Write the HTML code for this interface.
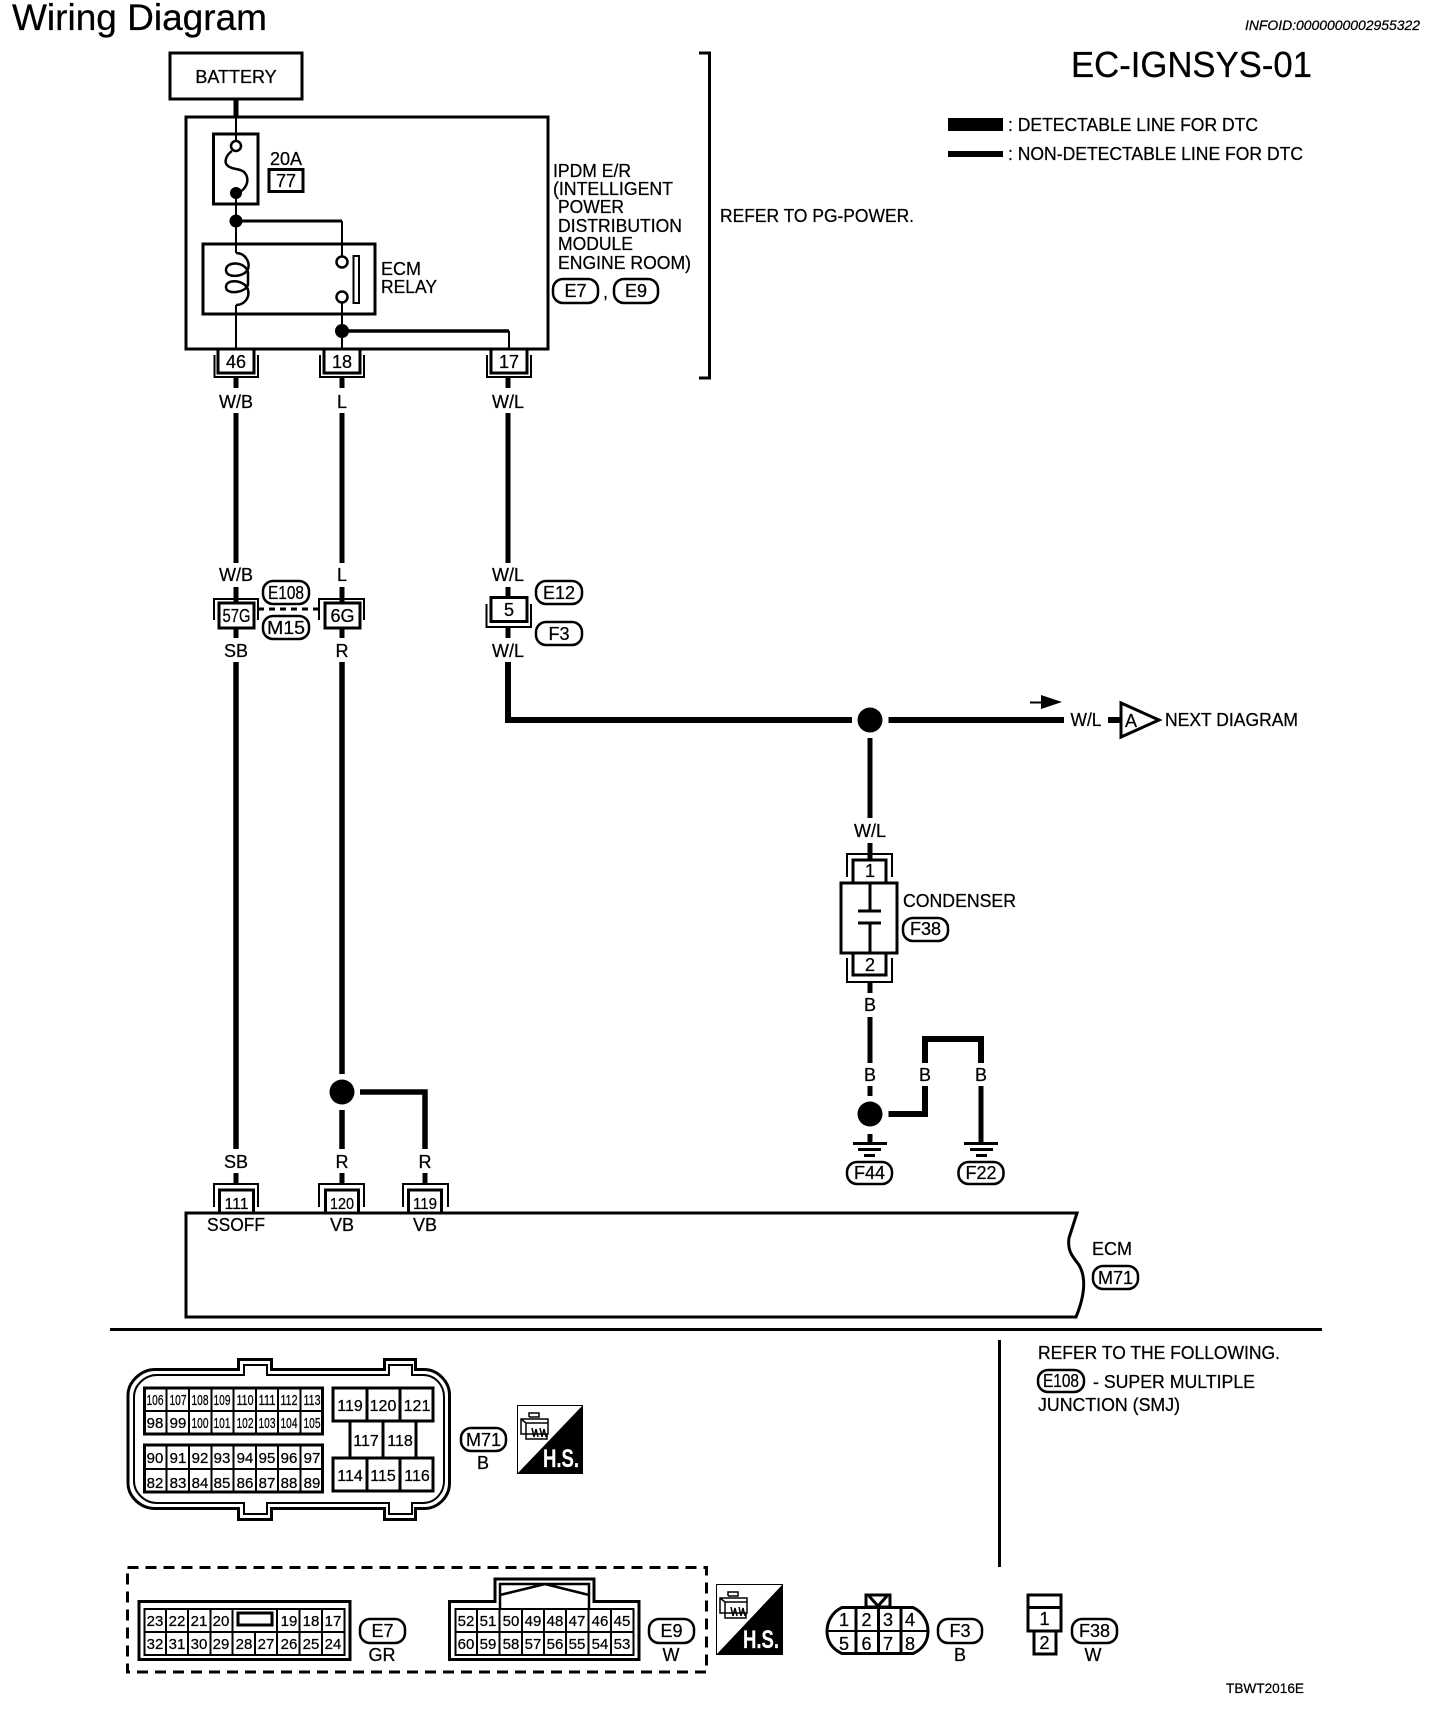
<!DOCTYPE html>
<html><head><meta charset="utf-8"><title>Wiring Diagram</title>
<style>
html,body{margin:0;padding:0;background:#fff}
svg{display:block}
text{font-family:"Liberation Sans",sans-serif;font-size:18px;fill:#000;stroke:#000;stroke-width:.25}
.m{text-anchor:middle}
.p{font-size:15px}
.q{font-size:16px}
.w{stroke:#000;stroke-width:5;fill:none}
.t{stroke:#000;stroke-width:2;fill:none}
.c{stroke:#000;stroke-width:2.500;fill:none}
.b{stroke:#000;stroke-width:3;fill:none}
.g{stroke:#000;stroke-width:3;fill:#fff}
.pill{stroke:#000;stroke-width:2.5;fill:#fff}
.hs{font-size:25px;font-weight:bold;fill:#fff;stroke:#fff;stroke-width:.2}
</style></head><body>
<svg width="1456" height="1710" viewBox="0 0 1456 1710" xmlns="http://www.w3.org/2000/svg">
<rect width="1456" height="1710" fill="#fff"/>
<text x="12" y="30" style="font-size:37px" textLength="255" lengthAdjust="spacingAndGlyphs">Wiring Diagram</text>
<text x="1245" y="30" style="font-size:14px;font-style:italic" textLength="175" lengthAdjust="spacingAndGlyphs">INFOID:0000000002955322</text>
<text x="1071" y="77" style="font-size:36px" textLength="241" lengthAdjust="spacingAndGlyphs">EC-IGNSYS-01</text>
<rect x="948" y="118" width="55" height="13"/>
<rect x="948" y="151" width="55" height="6"/>
<text x="1008" y="131" textLength="250" lengthAdjust="spacingAndGlyphs">: DETECTABLE LINE FOR DTC</text>
<text x="1008" y="160" textLength="295" lengthAdjust="spacingAndGlyphs">: NON-DETECTABLE LINE FOR DTC</text>

<!-- battery + IPDM -->
<rect x="170" y="53" width="132" height="46" class="b"/>
<text x="236" y="83" class="m">BATTERY</text>
<path d="M236 99V117" class="w"/>
<rect x="186" y="117" width="362" height="232" class="b"/>
<rect x="213.500" y="134" width="44.500" height="70" class="b"/>
<path d="M236 117V140M236 198V253M236 305V349M342 221V256M342 303V349M509 331V349" class="t"/>
<circle cx="236" cy="146" r="5" class="c" fill="#fff"/>
<path d="M232 151C226 155 224 162 227 165C231 170 240 168 244 172C249 177 249 186 240 192" class="c"/>
<circle cx="236" cy="193" r="6"/>
<circle cx="236" cy="221" r="6.500"/>
<path d="M236 221H342" class="b"/>
<rect x="203" y="244" width="172" height="70" class="b"/>
<path d="M236 253C246 253 250 263 248 269C245 277 226 279 226 270C226 261 245 261 248 272V284C248 292 226 296 226 287C226 278 246 280 248 290C250 298 244 305 236 305" class="c"/>
<circle cx="342" cy="262" r="5.500" class="c" fill="#fff"/>
<circle cx="342" cy="297" r="5.500" class="c" fill="#fff"/>
<rect x="353.500" y="256" width="5.500" height="47" class="t"/>
<circle cx="342" cy="331" r="7"/>
<path d="M342 331H509" class="b" style="stroke-width:3.500"/>
<text x="286" y="165" class="m">20A</text>
<rect x="269" y="169.500" width="34" height="22" class="b"/>
<text x="286" y="187" class="m">77</text>
<text x="381" y="275">ECM</text>
<text x="381" y="293" textLength="56" lengthAdjust="spacingAndGlyphs">RELAY</text>
<text x="553" y="177" textLength="78" lengthAdjust="spacingAndGlyphs">IPDM E/R</text>
<text x="553" y="195" textLength="120" lengthAdjust="spacingAndGlyphs">(INTELLIGENT</text>
<text x="558" y="213" textLength="66" lengthAdjust="spacingAndGlyphs">POWER</text>
<text x="558" y="232" textLength="124" lengthAdjust="spacingAndGlyphs">DISTRIBUTION</text>
<text x="558" y="250" textLength="75" lengthAdjust="spacingAndGlyphs">MODULE</text>
<text x="558" y="269" textLength="133" lengthAdjust="spacingAndGlyphs">ENGINE ROOM)</text>
<rect x="553" y="279" width="45" height="24" rx="10" class="pill"/><text x="575.500" y="297" class="m">E7</text>
<text x="603" y="298">,</text>
<rect x="614" y="279" width="44" height="24" rx="10" class="pill"/><text x="636" y="297" class="m">E9</text>
<path d="M699 53H709.500V378H699" class="b"/>
<text x="720" y="222" textLength="194" lengthAdjust="spacingAndGlyphs">REFER TO PG-POWER.</text>

<!-- IPDM connectors -->
<rect x="218" y="349" width="36" height="24" class="b"/><path d="M214.500 355V377H258V355" class="t"/>
<text x="236" y="368" class="m">46</text>
<rect x="324" y="349" width="36" height="24" class="b"/><path d="M320 355V377H364V355" class="t"/>
<text x="342" y="368" class="m">18</text>
<rect x="491" y="349" width="36" height="24" class="b"/><path d="M487 355V377H531V355" class="t"/>
<text x="509" y="368" class="m">17</text>

<path d="M236 377V388M236 413V563M342 377V388M342 413V563M508 377V388M508 413V563" class="w"/>
<text x="236" y="408" class="m">W/B</text><text x="342" y="408" class="m">L</text><text x="508" y="408" class="m">W/L</text>
<text x="236" y="581" class="m">W/B</text><text x="342" y="581" class="m">L</text><text x="508" y="581" class="m">W/L</text>
<path d="M236 587V603M342 587V603M508 587V597M236 628V638M342 628V638M508 628V638" class="w"/>

<!-- mid connectors -->
<path d="M214 620V599H258V620" class="t"/>
<rect x="219" y="603" width="35" height="25" class="g"/>
<text x="236.500" y="622" class="m" textLength="28" lengthAdjust="spacingAndGlyphs">57G</text>
<path d="M319 620V599H364V620" class="t"/>
<rect x="325" y="603" width="35" height="25" class="g"/>
<text x="342.500" y="622" class="m">6G</text>
<path d="M258 609H319" class="b" stroke-dasharray="6 5"/>
<rect x="263" y="581" width="46" height="23" rx="10" class="pill"/><text x="286" y="599" class="m" textLength="36" lengthAdjust="spacingAndGlyphs">E108</text>
<rect x="263" y="616" width="46" height="23" rx="10" class="pill"/><text x="286" y="634" class="m" textLength="38" lengthAdjust="spacingAndGlyphs">M15</text>
<rect x="491" y="597.500" width="36" height="24" class="b"/>
<text x="509" y="616" class="m">5</text>
<path d="M486.500 604V627H531V604" class="t"/>
<rect x="536" y="581" width="46" height="23" rx="10" class="pill"/><text x="559" y="599" class="m">E12</text>
<rect x="536" y="622" width="46" height="23" rx="10" class="pill"/><text x="559" y="640" class="m">F3</text>
<text x="236" y="657" class="m">SB</text><text x="342" y="657" class="m">R</text><text x="508" y="657" class="m">W/L</text>
<path d="M236 662V1149M342 662V1074M342 1110V1149M425 1149V1092H360" class="w" style="stroke-width:5.500"/>
<circle cx="342" cy="1092" r="12.500"/>
<path d="M508 662V720H852M888.500 720H1064" class="w" style="stroke-width:6"/>
<circle cx="870" cy="720" r="12.500"/>
<path d="M1030 702.500H1045" class="t"/><path d="M1041 695L1062 702L1041 709Z"/>
<text x="1086" y="726" class="m" textLength="31" lengthAdjust="spacingAndGlyphs">W/L</text>
<path d="M1108 720H1121" class="w" style="stroke-width:6"/>
<path d="M1121 703V737L1159 720Z" class="b" fill="#fff"/>
<text x="1131" y="727" class="m">A</text>
<text x="1165" y="726" textLength="133" lengthAdjust="spacingAndGlyphs">NEXT DIAGRAM</text>

<!-- condenser -->
<path d="M870 738V818M870 843V859" class="w"/>
<text x="870" y="837" class="m">W/L</text>
<path d="M847 877V854H892V877" class="t"/>
<rect x="853" y="860" width="33" height="24" class="b"/>
<text x="870" y="877" class="m">1</text>
<rect x="841" y="883" width="56" height="70" class="g"/>
<path d="M870 883V911M870 923V953" class="b"/>
<path d="M858 911H881M858 923H881" class="b"/>
<rect x="853" y="953" width="33" height="22" class="b"/>
<text x="870" y="971" class="m">2</text>
<path d="M847 958V982H892V958" class="t"/>
<text x="903" y="907" textLength="113" lengthAdjust="spacingAndGlyphs">CONDENSER</text>
<rect x="903" y="918" width="45" height="23" rx="10" class="pill"/><text x="925.500" y="935" class="m">F38</text>
<path d="M870 982V993M870 1017V1063M870 1086V1096M870 1134V1143" class="w"/>
<text x="870" y="1011" class="m">B</text><text x="870" y="1081" class="m">B</text>
<circle cx="870" cy="1114" r="12.500"/>
<path d="M888.500 1114H925V1086M925 1063V1039H981V1063" class="w" style="stroke-width:6"/>
<path d="M981 1086V1143" class="w"/>
<text x="925" y="1081" class="m">B</text><text x="981" y="1081" class="m">B</text>
<path d="M853 1143.500H887M858 1149.500H881M864 1155.500H875M964 1143.500H998M970 1149.500H993M976 1155.500H987" class="b"/>
<rect x="847" y="1162" width="45" height="22" rx="10" class="pill"/><text x="869.500" y="1179" class="m">F44</text>
<rect x="958.500" y="1162" width="45" height="22" rx="10" class="pill"/><text x="981" y="1179" class="m">F22</text>

<!-- ECM -->
<text x="236" y="1168" class="m">SB</text><text x="342" y="1168" class="m">R</text><text x="425" y="1168" class="m">R</text>
<path d="M236 1173V1184M342 1173V1184M425 1173V1184" class="w"/>
<path d="M214 1207V1184H258V1207M319 1207V1184H364V1207M403 1207V1184H448V1207" class="t"/>
<path d="M1077 1213L1069 1238C1067 1252 1074 1258 1079 1265C1086 1277 1085 1295 1076 1317H186V1213H1077Z" class="b" fill="#fff"/>
<rect x="219.500" y="1190" width="34" height="23" class="b"/><text x="236.500" y="1209" class="m q" textLength="24" lengthAdjust="spacingAndGlyphs">111</text>
<rect x="325.500" y="1190" width="33" height="23" class="b"/><text x="342" y="1209" class="m q" textLength="24" lengthAdjust="spacingAndGlyphs">120</text>
<rect x="408.500" y="1190" width="33" height="23" class="b"/><text x="425" y="1209" class="m q" textLength="24" lengthAdjust="spacingAndGlyphs">119</text>
<text x="236" y="1231" class="m" textLength="58" lengthAdjust="spacingAndGlyphs">SSOFF</text><text x="342" y="1231" class="m">VB</text><text x="425" y="1231" class="m">VB</text>
<text x="1112" y="1255" class="m">ECM</text>
<rect x="1093" y="1266" width="45" height="23" rx="10" class="pill"/><text x="1115.500" y="1284" class="m">M71</text>

<!-- dividers -->
<rect x="110" y="1328" width="1212" height="3"/>
<rect x="998" y="1340" width="3" height="227"/>
<text x="1038" y="1359" textLength="242" lengthAdjust="spacingAndGlyphs">REFER TO THE FOLLOWING.</text>
<rect x="1038" y="1370" width="46" height="22" rx="10" class="pill"/><text x="1061" y="1387" class="m" textLength="36" lengthAdjust="spacingAndGlyphs">E108</text>
<text x="1093" y="1388" textLength="162" lengthAdjust="spacingAndGlyphs">- SUPER MULTIPLE</text>
<text x="1038" y="1411" textLength="142" lengthAdjust="spacingAndGlyphs">JUNCTION (SMJ)</text>

<!-- M71 connector -->
<path d="M238.500 1369.500V1359.500H271.500V1369.500H384.500V1359.500H415.500V1369.500H424C438 1369.500 449.500 1382 449.500 1395V1483C449.500 1497 438 1508.500 424 1508.500H415.500V1519.500H384.500V1508.500H271.500V1519.500H238.500V1508.500H155C141 1508.500 128 1497 128 1483V1395C128 1382 141 1369.500 155 1369.500Z" class="b" fill="#fff"/>
<path d="M244 1375V1365H267V1375H389V1365H412V1375H423C435 1375 444 1385 444 1397V1481C444 1493 435 1503 423 1503H412V1514H389V1503H267V1514H244V1503H157C145 1503 134 1493 134 1481V1397C134 1385 145 1375 157 1375Z" class="t" fill="#fff"/>
<rect x="144.500" y="1388" width="178" height="46" class="b" fill="#fff" style="stroke-width:3"/>
<path d="M144 1411H322M166.500 1388V1434M189 1388V1434M211.500 1388V1434M233.500 1388V1434M256 1388V1434M278 1388V1434M300.500 1388V1434" class="t"/>
<rect x="144.500" y="1445" width="178" height="47" class="b" fill="#fff"/>
<path d="M144 1469H322M166.500 1445V1492M189 1445V1492M211.500 1445V1492M233.500 1445V1492M256 1445V1492M278 1445V1492M300.500 1445V1492" class="t"/>
<text x="155" y="1405" class="m p" textLength="17" lengthAdjust="spacingAndGlyphs">106</text><text x="178" y="1405" class="m p" textLength="17" lengthAdjust="spacingAndGlyphs">107</text><text x="200" y="1405" class="m p" textLength="17" lengthAdjust="spacingAndGlyphs">108</text><text x="222" y="1405" class="m p" textLength="17" lengthAdjust="spacingAndGlyphs">109</text><text x="245" y="1405" class="m p" textLength="17" lengthAdjust="spacingAndGlyphs">110</text><text x="267" y="1405" class="m p" textLength="17" lengthAdjust="spacingAndGlyphs">111</text><text x="289" y="1405" class="m p" textLength="17" lengthAdjust="spacingAndGlyphs">112</text><text x="312" y="1405" class="m p" textLength="17" lengthAdjust="spacingAndGlyphs">113</text>
<text x="155" y="1428" class="m p">98</text><text x="178" y="1428" class="m p">99</text><text x="200" y="1428" class="m p" textLength="17" lengthAdjust="spacingAndGlyphs">100</text><text x="222" y="1428" class="m p" textLength="17" lengthAdjust="spacingAndGlyphs">101</text><text x="245" y="1428" class="m p" textLength="17" lengthAdjust="spacingAndGlyphs">102</text><text x="267" y="1428" class="m p" textLength="17" lengthAdjust="spacingAndGlyphs">103</text><text x="289" y="1428" class="m p" textLength="17" lengthAdjust="spacingAndGlyphs">104</text><text x="312" y="1428" class="m p" textLength="17" lengthAdjust="spacingAndGlyphs">105</text>
<text x="155" y="1463" class="m p">90</text><text x="178" y="1463" class="m p">91</text><text x="200" y="1463" class="m p">92</text><text x="222" y="1463" class="m p">93</text><text x="245" y="1463" class="m p">94</text><text x="267" y="1463" class="m p">95</text><text x="289" y="1463" class="m p">96</text><text x="312" y="1463" class="m p">97</text>
<text x="155" y="1488" class="m p">82</text><text x="178" y="1488" class="m p">83</text><text x="200" y="1488" class="m p">84</text><text x="222" y="1488" class="m p">85</text><text x="245" y="1488" class="m p">86</text><text x="267" y="1488" class="m p">87</text><text x="289" y="1488" class="m p">88</text><text x="312" y="1488" class="m p">89</text>
<path d="M333 1388H433V1421H333ZM367 1388V1421M400 1388V1421M350 1421V1457M416 1421V1457M383 1421V1457M333 1458H433V1491H333ZM367 1458V1491M400 1458V1491" class="b"/>
<text x="350" y="1411" class="m q">119</text><text x="383" y="1411" class="m q">120</text><text x="417" y="1411" class="m q">121</text>
<text x="366" y="1446" class="m q">117</text><text x="400" y="1446" class="m q">118</text>
<text x="350" y="1481" class="m q">114</text><text x="383" y="1481" class="m q">115</text><text x="417" y="1481" class="m q">116</text>
<rect x="461" y="1428" width="45" height="23" rx="10" class="pill"/><text x="483.500" y="1446" class="m">M71</text>
<text x="483" y="1469" class="m">B</text>

<!-- HS icon 1 -->
<rect x="517.500" y="1405.500" width="65" height="68" fill="#fff" stroke="#000"/>
<path d="M583 1405V1474H517Z"/>
<path d="M521 1419H548V1434H521ZM521 1419L526 1423V1439H547V1434M526 1423H548M529 1417V1413H539V1417H529M532 1428L534 1437L536 1429L538 1437M540 1428L542 1437L544 1429L546 1437" stroke="#000" stroke-width="1.500" fill="none"/>
<text x="561" y="1467" class="m hs" textLength="36" lengthAdjust="spacingAndGlyphs">H.S.</text>

<!-- dashed box -->
<rect x="127.500" y="1567.500" width="579" height="104.500" fill="none" stroke="#000" stroke-width="3" stroke-dasharray="11 7"/>

<!-- E7 -->
<rect x="139" y="1601.500" width="211" height="58" class="b"/>
<rect x="144.500" y="1609" width="200" height="46" class="t"/>
<path d="M144 1632H345M166 1609V1655M188 1609V1655M210.500 1609V1655M232.500 1609V1655M255 1632V1655M277 1609V1655M299.500 1609V1655M322 1609V1655" class="t"/>
<rect x="238" y="1613" width="34" height="12" class="b"/>
<text x="155" y="1626" class="m p">23</text><text x="177" y="1626" class="m p">22</text><text x="199" y="1626" class="m p">21</text><text x="221" y="1626" class="m p">20</text><text x="289" y="1626" class="m p">19</text><text x="311" y="1626" class="m p">18</text><text x="333" y="1626" class="m p">17</text>
<text x="155" y="1649" class="m p">32</text><text x="177" y="1649" class="m p">31</text><text x="199" y="1649" class="m p">30</text><text x="221" y="1649" class="m p">29</text><text x="244" y="1649" class="m p">28</text><text x="266" y="1649" class="m p">27</text><text x="289" y="1649" class="m p">26</text><text x="311" y="1649" class="m p">25</text><text x="333" y="1649" class="m p">24</text>
<rect x="360" y="1619" width="45" height="24" rx="10" class="pill"/><text x="382.500" y="1637" class="m">E7</text>
<text x="382" y="1661" class="m">GR</text>

<!-- E9 -->
<path d="M449.500 1601.500H495V1579H594V1601.500H639V1659.500H449.500Z" class="b"/>
<path d="M500 1609V1584H589V1609M500 1595L545 1584L589 1595" class="t" style="stroke-width:2.500"/>
<rect x="455.500" y="1609" width="178" height="46" class="t"/>
<path d="M455 1632H633M477 1609V1655M499.500 1609V1655M522 1609V1655M544 1609V1655M566 1609V1655M588.500 1609V1655M611 1609V1655" class="t"/>
<text x="466" y="1626" class="m p">52</text><text x="488" y="1626" class="m p">51</text><text x="511" y="1626" class="m p">50</text><text x="533" y="1626" class="m p">49</text><text x="555" y="1626" class="m p">48</text><text x="577" y="1626" class="m p">47</text><text x="600" y="1626" class="m p">46</text><text x="622" y="1626" class="m p">45</text>
<text x="466" y="1649" class="m p">60</text><text x="488" y="1649" class="m p">59</text><text x="511" y="1649" class="m p">58</text><text x="533" y="1649" class="m p">57</text><text x="555" y="1649" class="m p">56</text><text x="577" y="1649" class="m p">55</text><text x="600" y="1649" class="m p">54</text><text x="622" y="1649" class="m p">53</text>
<rect x="649" y="1619" width="45" height="24" rx="10" class="pill"/><text x="671.500" y="1637" class="m">E9</text>
<text x="671" y="1661" class="m">W</text>

<!-- HS icon 2 -->
<rect x="716.500" y="1584.500" width="66" height="70" fill="#fff" stroke="#000"/>
<path d="M783 1584V1655H716Z"/>
<path d="M720 1598H747V1613H720ZM720 1598L725 1602V1618H746V1613M725 1602H747M728 1596V1592H738V1596H728M731 1607L733 1616L735 1608L737 1616M739 1607L741 1616L743 1608L745 1616" stroke="#000" stroke-width="1.500" fill="none"/>
<text x="761" y="1648" class="m hs" textLength="36" lengthAdjust="spacingAndGlyphs">H.S.</text>

<!-- F3 -->
<rect x="866" y="1595" width="24" height="12" class="b"/>
<path d="M869 1596L878 1606L887 1596" class="b"/>
<path d="M842 1607.500H913C923 1612 928 1622 928 1631C928 1641 923 1649 913 1653.500H842C832 1649 827 1641 827 1631C827 1622 832 1612 842 1607.500Z" class="b" fill="#fff"/>
<path d="M827 1631H928" class="t"/>
<path d="M856 1607V1654M878.500 1607V1654M901 1607V1654" class="b"/>
<text x="844" y="1626" class="m">1</text><text x="866.500" y="1626" class="m">2</text><text x="888" y="1626" class="m">3</text><text x="910" y="1626" class="m">4</text>
<text x="844" y="1650" class="m">5</text><text x="866.500" y="1650" class="m">6</text><text x="888" y="1650" class="m">7</text><text x="910" y="1650" class="m">8</text>
<rect x="938" y="1619" width="44" height="24" rx="10" class="pill"/><text x="960" y="1637" class="m">F3</text>
<text x="960" y="1661" class="m">B</text>

<!-- F38 -->
<rect x="1028" y="1595" width="33" height="36" class="b"/>
<path d="M1028 1607.500H1061" class="b"/>
<rect x="1034" y="1631" width="22" height="23" class="b"/>
<text x="1044.500" y="1625" class="m">1</text>
<text x="1044.500" y="1649" class="m">2</text>
<rect x="1072" y="1619" width="45" height="24" rx="10" class="pill"/><text x="1094.500" y="1637" class="m">F38</text>
<text x="1093" y="1661" class="m">W</text>

<text x="1226" y="1693" style="font-size:14px" textLength="78" lengthAdjust="spacingAndGlyphs">TBWT2016E</text>
</svg>
</body></html>
